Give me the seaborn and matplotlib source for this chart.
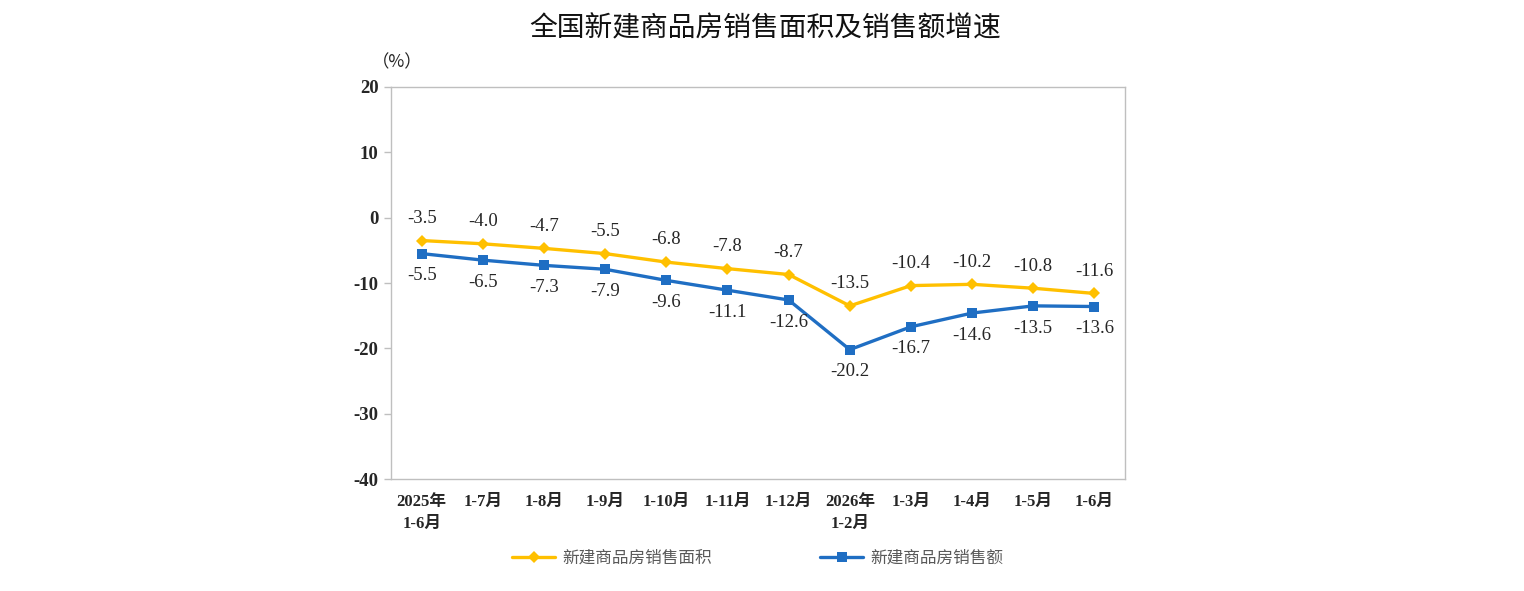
import numpy as np
import pandas as pd
import seaborn as sns
import matplotlib
matplotlib.use('Agg')
import matplotlib.pyplot as plt

periods = ['2025年\n1-6月', '1-7月', '1-8月', '1-9月', '1-10月', '1-11月',
           '1-12月', '2026年\n1-2月', '1-3月', '1-4月', '1-5月', '1-6月']
area_name = '新建商品房销售面积'
sales_name = '新建商品房销售额'
area = [-3.5, -4.0, -4.7, -5.5, -6.8, -7.8, -8.7, -13.5, -10.4, -10.2, -10.8, -11.6]
sales = [-5.5, -6.5, -7.3, -7.9, -9.6, -11.1, -12.6, -20.2, -16.7, -14.6, -13.5, -13.6]
yticks = [-40, -30, -20, -10, 0, 10, 20]

sns.set_style('white')
plt.rcParams['font.family'] = ['Liberation Serif', 'Noto Sans CJK SC']

pos = np.arange(len(periods))
df = pd.DataFrame({
    'pos': np.concatenate([pos, pos]),
    'value': area + sales,
    'series': [area_name] * len(area) + [sales_name] * len(sales),
})

yellow = '#FFC000'
blue = '#1F6EC3'
grid_c = '#BFBFBF'
text_c = '#262626'

fig = plt.figure(figsize=(15.24, 5.91), dpi=100)
ax = fig.add_axes([0.2566, 0.1895, 0.4816, 0.6633])

sns.lineplot(
    data=df, x='pos', y='value', hue='series', style='series',
    palette={area_name: yellow, sales_name: blue},
    markers={area_name: 'D', sales_name: 's'},
    dashes=False, linewidth=2.4, markersize=6.5, markeredgewidth=0,
    ax=ax, legend=True,
)

for x, v in zip(pos, area):
    ax.annotate(f'{v:.1f}', (x, v), xytext=(0, 16), textcoords='offset points',
                ha='center', va='center', fontsize=13.5, color=text_c)
for x, v in zip(pos, sales):
    ax.annotate(f'{v:.1f}', (x, v), xytext=(0, -16), textcoords='offset points',
                ha='center', va='center', fontsize=13.5, color=text_c)

ax.set_xlim(-0.5, len(periods) - 0.5)
ax.set_ylim(-40, 20)
ax.set_yticks(yticks)
ax.set_yticklabels([str(t) for t in yticks], fontsize=13.5, fontweight='bold', color=text_c)
ax.set_xticks(np.arange(-0.5, len(periods), 1.0))
ax.set_xticklabels([])
ax.set_xticks(pos, minor=True)
ax.set_xticklabels(periods, minor=True, fontsize=12, fontweight='bold',
                   color=text_c, linespacing=1.45, va='top')
ax.tick_params(axis='x', which='major', direction='in', length=6, color=grid_c, width=1)
ax.tick_params(axis='x', which='minor', length=0, pad=11)
ax.tick_params(axis='y', direction='out', length=5, color=grid_c, width=1, pad=4, left=True)
ax.set_xlabel('')
ax.set_ylabel('')
for s in ax.spines.values():
    s.set_color(grid_c)
    s.set_linewidth(1)

handles, labels = ax.get_legend_handles_labels()
ax.get_legend().remove()
leg = fig.legend(handles, labels, loc='center', bbox_to_anchor=(0.497, 0.055),
                 ncol=2, frameon=False, columnspacing=6.5, handlelength=2.6,
                 handletextpad=0.4, prop={'family': ['Noto Sans CJK SC'], 'size': 12})
for t in leg.get_texts():
    t.set_color('#595959')

fig.text(0.244, 0.895, '（%）', fontsize=12.5, color=text_c,
         family=['Noto Sans CJK SC'], ha='left', va='center')
fig.text(0.502, 0.952, '全国新建商品房销售面积及销售额增速', fontsize=20,
         family=['Noto Sans CJK SC'], fontweight='medium', color='#111111',
         ha='center', va='center')

fig.savefig('out.png', dpi=100)
